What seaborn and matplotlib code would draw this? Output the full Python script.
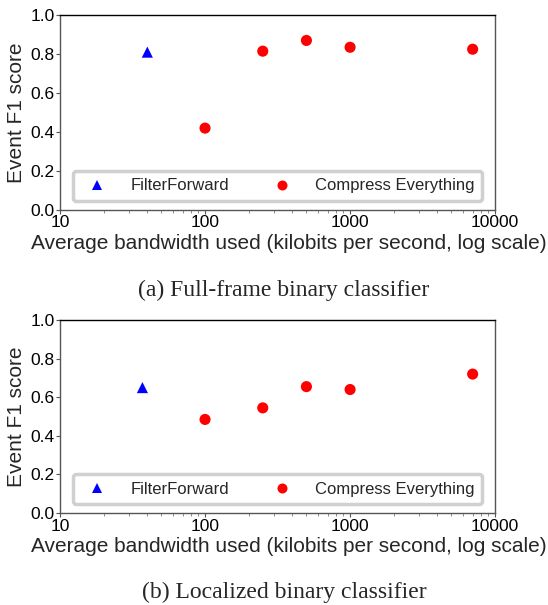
import numpy as np
import pandas as pd
import matplotlib
matplotlib.use("Agg")
import matplotlib.pyplot as plt
import seaborn as sns
from matplotlib.ticker import FixedLocator, FixedFormatter, LogLocator, NullFormatter

# -----------------------------
# DATA
# -----------------------------
methods = ["FilterForward", "Compress Everything"]

ff_bw_a = [40]
ff_f1_a = [0.81]
ce_bw_a = [100, 250, 500, 1000, 7000]
ce_f1_a = [0.42, 0.815, 0.87, 0.835, 0.825]

ff_bw_b = [37]
ff_f1_b = [0.65]
ce_bw_b = [100, 250, 500, 1000, 7000]
ce_f1_b = [0.485, 0.545, 0.655, 0.64, 0.72]

captions = ["(a) Full-frame binary classifier", "(b) Localized binary classifier"]
x_ticks = [10, 100, 1000, 10000]
x_tick_labels = ["10", "100", "1000", "10000"]
y_ticks = [0.0, 0.2, 0.4, 0.6, 0.8, 1.0]


def make_df(ff_bw, ff_f1, ce_bw, ce_f1):
    return pd.DataFrame({
        "bw": ff_bw + ce_bw,
        "f1": ff_f1 + ce_f1,
        "method": [methods[0]] * len(ff_bw) + [methods[1]] * len(ce_bw),
    })


panels = [
    make_df(ff_bw_a, ff_f1_a, ce_bw_a, ce_f1_a),
    make_df(ff_bw_b, ff_f1_b, ce_bw_b, ce_f1_b),
]

# -----------------------------
# STYLE
# -----------------------------
sns.set_style("white")
plt.rcParams["font.family"] = ["Liberation Sans", "DejaVu Sans"]

fig = plt.figure(figsize=(5.48, 6.05), dpi=100)
axes_pos = [
    [0.1095, 0.653, 0.794, 0.322],
    [0.1095, 0.152, 0.794, 0.319],
]
caption_y = [1 - 290 / 605, 1 - 592 / 605]

for df, pos, cap, cy in zip(panels, axes_pos, captions, caption_y):
    ax = fig.add_axes(pos)

    sns.scatterplot(
        data=df,
        x="bw",
        y="f1",
        hue="method",
        style="method",
        hue_order=methods,
        style_order=methods,
        palette={methods[0]: "blue", methods[1]: "red"},
        markers={methods[0]: "^", methods[1]: "o"},
        s=64,
        linewidth=0,
        ax=ax,
    )

    ax.set_xscale("log")
    ax.set_xlim(10, 10000)
    ax.set_ylim(0, 1.0)
    ax.xaxis.set_major_locator(FixedLocator(x_ticks))
    ax.xaxis.set_major_formatter(FixedFormatter(x_tick_labels))
    ax.xaxis.set_minor_locator(LogLocator(base=10, subs=np.arange(2, 10)))
    ax.xaxis.set_minor_formatter(NullFormatter())
    ax.set_yticks(y_ticks)
    ax.set_yticklabels([f"{v:.1f}" for v in y_ticks])

    ax.tick_params(axis="both", which="major", direction="out", length=3,
                   labelsize=12.5, pad=1, bottom=True, left=True, colors="#555555",
                   labelcolor="black")
    ax.tick_params(axis="x", which="minor", direction="out", length=2,
                   bottom=True, colors="#777777")
    for name, sp in ax.spines.items():
        sp.set_color("black" if name == "top" else "#555555")
        sp.set_linewidth(1.0)

    ax.set_xlabel("Average bandwidth used (kilobits per second, log scale)",
                  fontsize=15)
    ax.xaxis.set_label_coords(0.526, -0.125)
    ax.set_ylabel("Event F1 score", fontsize=15, labelpad=3)

    leg = ax.legend(
        loc="lower left",
        bbox_to_anchor=(0.03, 0.046, 0.94, 0.17),
        mode="expand",
        borderaxespad=0,
        ncol=2,
        fontsize=12,
        frameon=True,
        fancybox=True,
        handletextpad=1.0,
        columnspacing=2.1,
        borderpad=0.45,
        markerscale=0.9,
    )
    frame = leg.get_frame()
    frame.set_edgecolor("#d0d0d0")
    frame.set_linewidth(2.5)
    frame.set_facecolor("white")
    frame.set_alpha(1.0)

    fig.text(284 / 548, cy, cap, ha="center", va="center",
             fontsize=17, family=["Liberation Serif", "DejaVu Serif"])

fig.savefig("out.png", dpi=100)
